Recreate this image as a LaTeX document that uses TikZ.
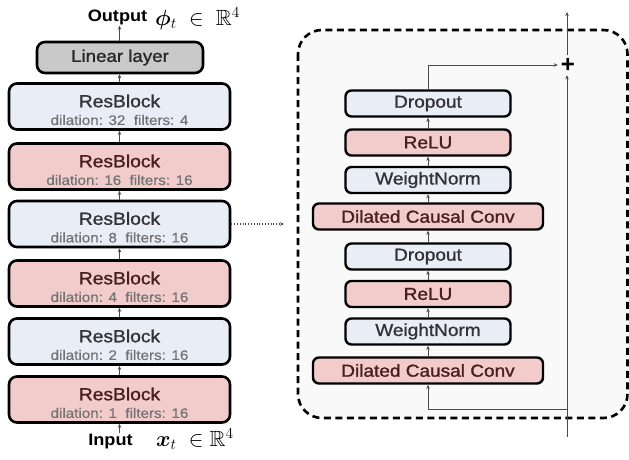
\RequirePackage{fix-cm}
\documentclass[tikz,border=0pt]{standalone}
\usepackage{amsmath,amssymb,bm}
\usepackage{fontspec}
\setmainfont{Liberation Sans}
\newfontfamily\boxfont{Liberation Sans}[FakeStretch=1.1, FakeBold=1.2]
\newfontfamily\subfont{Liberation Sans}[FakeStretch=1.1, FakeBold=0.5]
\newfontfamily\headfont{Liberation Sans}[FakeStretch=1.1]
\usetikzlibrary{arrows.meta,calc}

\definecolor{blkblue}{HTML}{E8EDF6}
\definecolor{blkred}{HTML}{F2CBCB}
\definecolor{blkgray}{HTML}{C9C9C9}
\definecolor{txtblue}{HTML}{333338}
\definecolor{txtred}{HTML}{4A1E1E}
\definecolor{subtxt}{HTML}{737373}
\definecolor{panelbg}{HTML}{F9F9F9}
\definecolor{wire}{HTML}{4A4A4A}

\tikzset{
  blockbox/.style={draw=black, line width=2.6pt, rounded corners=8pt, inner sep=0pt},
  resblue/.style={blockbox, fill=blkblue, minimum width=221pt, minimum height=46pt},
  resred/.style={blockbox, fill=blkred, minimum width=221pt, minimum height=46pt},
  layerbox/.style={draw=black, line width=2.4pt, rounded corners=6pt, inner sep=0pt,
                   minimum height=26pt, font=\boxfont\fontsize{17.3}{20}\selectfont},
  smallblue/.style={layerbox, fill=blkblue, minimum width=165pt, text=txtblue},
  smallred/.style={layerbox, fill=blkred, minimum width=165pt, text=txtred},
  widered/.style={layerbox, fill=blkred, minimum width=230pt, text=txtred},
  titletxt/.style={font=\boxfont\fontsize{17.5}{20}\selectfont, inner sep=0pt},
  subtitletxt/.style={font=\subfont\fontsize{13.8}{16}\selectfont, text=subtxt, inner sep=0pt},
  mathlbl/.style={inner sep=0pt, font=\fontsize{22}{26}\selectfont},
  flow/.style={-{Stealth[length=4pt,width=3.5pt]}, line width=0.8pt, draw=wire},
}

\begin{document}
\begin{tikzpicture}[x=1pt,y=-1pt]
\useasboundingbox (0,0) rectangle (629,460);

% ---------- left column: stack of residual blocks ----------
\node[blockbox, fill=blkgray, minimum width=166pt, minimum height=31pt,
      font=\boxfont\fontsize{17}{20}\selectfont, text=black!85] (lin) at (120,57.5) {Linear layer};

\foreach \name/\sty/\tc/\yy/\dil/\fil in {r1/resblue/txtblue/106.5/32/4, r2/resred/txtred/166.5/16/16,
    r3/resblue/txtblue/224/8/16, r4/resred/txtred/283.5/4/16, r5/resblue/txtblue/341.5/2/16,
    r6/resred/txtred/399.5/1/16}{
  \node[\sty] (\name) at (119.5,\yy) {};
  \node[titletxt, text=\tc] at ($(\name.center)+(0,-5.5)$) {ResBlock};
  \node[subtitletxt] at ($(\name.center)+(0,13.5)$) {dilation: \dil\ \ filters: \fil};
}

\node[font=\headfont\bfseries\fontsize{16.5}{18}\selectfont, inner sep=1pt] (out) at (117.5,17) {Output};
\node[mathlbl, anchor=west] (phi) at (155,18.5) {$\bm{\phi}_t \ \in\ \mathbb{R}^4$};
\node[font=\headfont\bfseries\fontsize{16.5}{18}\selectfont, inner sep=1pt] (inp) at (110.5,442) {Input};
\node[mathlbl, anchor=west] (xin) at (156,439) {$\bm{x}_t \ \in \mathbb{R}^4$};

\draw[flow] (inp.north -| r6.south) -- (r6.south);
\draw[flow] (r6) -- (r5);
\draw[flow] (r5) -- (r4);
\draw[flow] (r4) -- (r3);
\draw[flow] (r3) -- (r2);
\draw[flow] (r2) -- (r1);
\draw[flow] (r1.north) -- (lin.south -| r1.north);
\draw[flow] (lin.north -| r1.north) -- (out.south -| r1.north);

% ---------- right panel: inside of one residual block ----------
\draw[line width=2.6pt, dash pattern=on 7pt off 4.5pt, rounded corners=24pt, fill=panelbg]
  (298,30) rectangle (627.5,418);

\coordinate (panelin) at (284,224);
\draw[flow, dotted, line width=1.1pt] (r3.east) -- (panelin);

\node[smallblue] (d1) at (428,103.5) {Dropout};
\node[smallred]  (a1) at (428,142.5) {ReLU};
\node[smallblue] (w1) at (428,180)   {WeightNorm};
\node[widered]   (c1) at (428,216.5) {Dilated Causal Conv};
\node[smallblue] (d2) at (428,256.5) {Dropout};
\node[smallred]  (a2) at (428,294)   {ReLU};
\node[smallblue] (w2) at (428,331.5) {WeightNorm};
\node[widered]   (c2) at (428,370.5) {Dilated Causal Conv};

\draw[flow] (c2) -- (w2);
\draw[flow] (w2) -- (a2);
\draw[flow] (a2) -- (d2);
\draw[flow] (d2) -- (c1);
\draw[flow] (c1) -- (w1);
\draw[flow] (w1) -- (a1);
\draw[flow] (a1) -- (d1);

% residual sum
\node[font=\bfseries\fontsize{24}{24}\selectfont, inner sep=1pt] (plus) at (568,65) {+};
\coordinate (skipbot) at (567,437);
\coordinate (skipsplit) at (567,409);
\coordinate (top) at (567,12);

\draw[flow] (d1.north) |- ($(plus.west)+(-2,0)$);
\draw[flow] (skipbot) -- ($(plus.south)+(-1,2)$);
\draw[flow] ($(plus.north)+(-1,-2)$) -- (top);
\draw[flow] (skipsplit) -| (c2.south);
\end{tikzpicture}
\end{document}
